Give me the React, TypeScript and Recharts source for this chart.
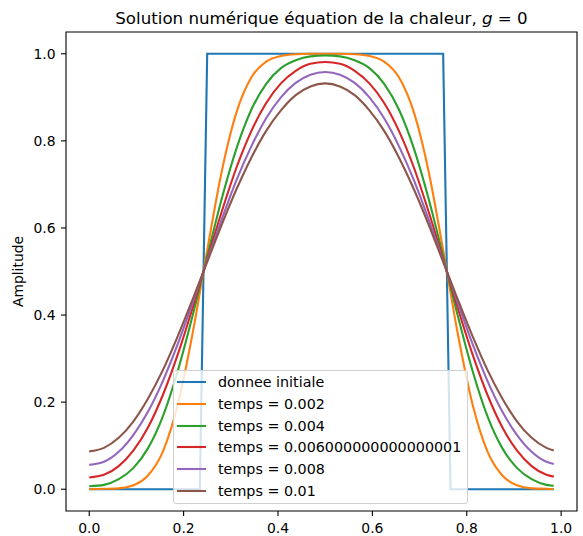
import { LineChart, Line, XAxis, YAxis, Legend, ReferenceArea } from 'recharts';

// grid points i/64 (every other one, plus the last)
const gridIndex = [0, 2, 4, 6, 8, 10, 12, 14, 16, 18, 20, 22, 24, 26, 28, 30, 32, 34, 36, 38, 40, 42, 44, 46, 48, 50, 52, 54, 56, 58, 60, 62, 63];

const stepIndex = [0, 15, 16, 48, 49, 63];
const initialValues = [0, 0, 1, 1, 0, 0];

const temps002 = [0.0, 0.001, 0.002, 0.009, 0.032, 0.087, 0.194, 0.356, 0.549, 0.732, 0.867, 0.946, 0.982, 0.995, 0.999, 1.0, 1.0, 1.0, 0.999, 0.995, 0.982, 0.946, 0.867, 0.732, 0.549, 0.356, 0.194, 0.087, 0.032, 0.009, 0.002, 0.001, 0.0];
const temps004 = [0.007, 0.01, 0.023, 0.049, 0.095, 0.168, 0.271, 0.397, 0.535, 0.669, 0.784, 0.872, 0.931, 0.967, 0.985, 0.994, 0.996, 0.994, 0.985, 0.967, 0.931, 0.872, 0.784, 0.669, 0.535, 0.397, 0.271, 0.168, 0.095, 0.049, 0.023, 0.01, 0.008];
const temps006 = [0.027, 0.033, 0.053, 0.089, 0.143, 0.217, 0.309, 0.415, 0.528, 0.639, 0.74, 0.823, 0.887, 0.932, 0.961, 0.977, 0.981, 0.977, 0.961, 0.932, 0.887, 0.823, 0.74, 0.639, 0.528, 0.415, 0.309, 0.217, 0.143, 0.089, 0.053, 0.033, 0.029];
const temps008 = [0.056, 0.063, 0.086, 0.125, 0.179, 0.249, 0.333, 0.427, 0.525, 0.621, 0.711, 0.788, 0.852, 0.9, 0.933, 0.952, 0.958, 0.952, 0.933, 0.9, 0.852, 0.788, 0.711, 0.621, 0.525, 0.427, 0.333, 0.249, 0.179, 0.125, 0.086, 0.063, 0.058];
const temps010 = [0.087, 0.095, 0.118, 0.156, 0.209, 0.274, 0.351, 0.435, 0.522, 0.609, 0.69, 0.762, 0.823, 0.87, 0.905, 0.925, 0.932, 0.925, 0.905, 0.87, 0.823, 0.762, 0.69, 0.609, 0.522, 0.435, 0.351, 0.274, 0.209, 0.156, 0.118, 0.095, 0.089];

const labels = ['donnee initiale', 'temps = 0.002', 'temps = 0.004', 'temps = 0.006000000000000001', 'temps = 0.008', 'temps = 0.01'];
const colors = ['#1f77b4', '#ff7f0e', '#2ca02c', '#d62728', '#9467bd', '#8c564b'];

const xTicks = [0, 0.2, 0.4, 0.6, 0.8, 1.0];
const yTicks = [0, 0.2, 0.4, 0.6, 0.8, 1.0];

const toPoints = (idx: number[], vals: number[]) => idx.map((i, k) => ({ x: i / 64, u: vals[k] }));

const series = [
  { data: toPoints(stepIndex, initialValues), type: 'linear' as const },
  { data: toPoints(gridIndex, temps002), type: 'monotone' as const },
  { data: toPoints(gridIndex, temps004), type: 'monotone' as const },
  { data: toPoints(gridIndex, temps006), type: 'monotone' as const },
  { data: toPoints(gridIndex, temps008), type: 'monotone' as const },
  { data: toPoints(gridIndex, temps010), type: 'monotone' as const },
];

const font = 'DejaVu Sans';
const tickStyle = { fill: '#000', fontSize: 13.9, fontFamily: font };

function LegendBox() {
  return (
    <div
      style={{
        boxSizing: 'border-box',
        width: 295,
        height: 134,
        background: 'rgba(255,255,255,0.8)',
        border: '1px solid #d0d0d0',
        borderRadius: 3,
        paddingTop: 0.5,
        fontFamily: font,
        fontSize: 14.3,
        color: '#000',
      }}
    >
      {labels.map((label, k) => (
        <div key={label} style={{ height: 21.7, display: 'flex', alignItems: 'center' }}>
          <svg width={36} height={6} style={{ marginLeft: 1 }}>
            <line x1={2} y1={3} x2={31} y2={3} stroke={colors[k]} strokeWidth={2.1} />
          </svg>
          <span style={{ marginLeft: 7 }}>{label}</span>
        </div>
      ))}
    </div>
  );
}

export default function App() {
  return (
    <div style={{ position: 'absolute', left: 0, top: 0, width: 583, height: 536, background: '#fff' }}>
      <LineChart width={583} height={536} margin={{ top: 32, right: 6, bottom: 0, left: 0 }}>
        <XAxis
          type="number"
          dataKey="x"
          domain={[-0.0492, 1.0336]}
          allowDataOverflow
          ticks={xTicks}
          tickFormatter={(v: number) => v.toFixed(1)}
          height={25}
          axisLine={false}
          tickSize={5}
          tickMargin={7}
          tickLine={{ stroke: '#000', strokeWidth: 1.1 }}
          tick={tickStyle}
        />
        <YAxis
          type="number"
          domain={[-0.05, 1.05]}
          allowDataOverflow
          ticks={yTicks}
          tickFormatter={(v: number) => v.toFixed(1)}
          width={66}
          axisLine={false}
          tickSize={5}
          tickMargin={5.5}
          tickLine={{ stroke: '#000', strokeWidth: 1.1 }}
          tick={tickStyle}
        />
        <ReferenceArea x1={-0.0492} x2={1.0336} y1={-0.05} y2={1.05} fill="none" stroke="#000" strokeWidth={1.1} />
        {series.map((s, k) => (
          <Line
            key={labels[k]}
            data={s.data}
            dataKey="u"
            type={s.type}
            stroke={colors[k]}
            strokeWidth={2.1}
            dot={false}
            activeDot={false}
            isAnimationActive={false}
          />
        ))}
        <Legend
          layout="horizontal"
          verticalAlign="middle"
          align="center"
          wrapperStyle={{ left: 173, top: 370, width: 295, height: 134 }}
          content={() => <LegendBox />}
        />
        <text x={321.5} y={23.7} textAnchor="middle" fontSize={16.67} fontFamily={font} fill="#000">
          Solution numérique équation de la chaleur, <tspan fontStyle="italic">g</tspan> = 0
        </text>
        <text x={23} y={271.5} textAnchor="middle" fontSize={13.9} fontFamily={font} fill="#000" transform="rotate(-90 23 271.5)">
          Amplitude
        </text>
      </LineChart>
    </div>
  );
}
